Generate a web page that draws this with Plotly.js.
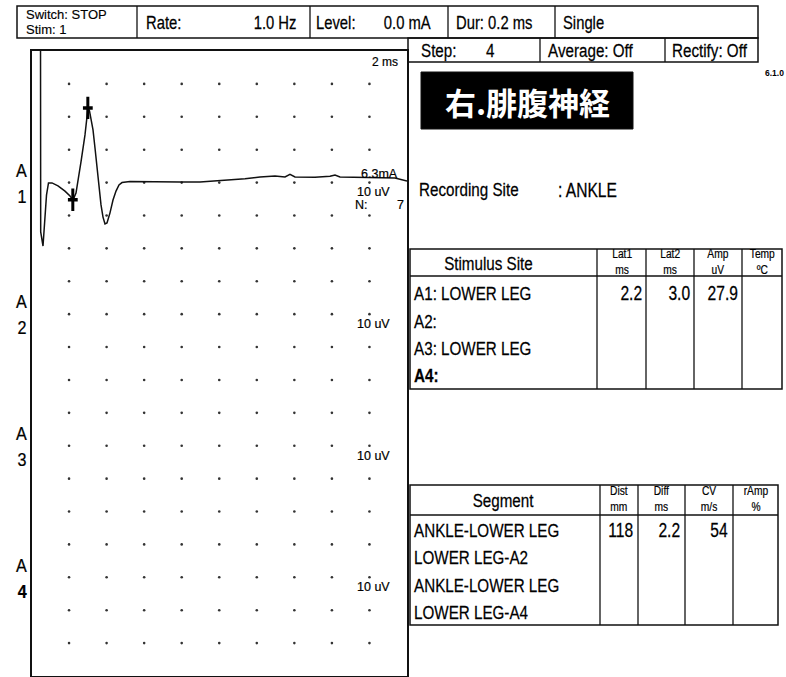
<!DOCTYPE html>
<html><head><meta charset="utf-8">
<script src="https://cdn.plot.ly/plotly-3.0.1.min.js"></script>
<style>html,body{margin:0;padding:0;background:#fff}#chart{width:786px;height:677px}</style>
</head><body><div id="chart"></div>
<script>
// ---- data ----
const timeMs = [0.479,0.490,0.613,0.692,0.799,0.905,1.092,1.411,1.784,2.051,2.210,2.370,2.477,2.636,2.849,2.929,3.009,3.089,3.169,3.276,3.382,3.542,3.702,3.808,3.915,4.021,4.181,4.341,4.501,4.660,4.820,5.246,6.312,7.909,8.975,9.774,10.573,11.372,12.170,12.969,13.502,13.768,14.035,15.100,15.899,16.165,16.431,17.497,18.562,19.361,20.0];
const ampUv  = [49.4,-15.0,-19.3,-13.8,-3.8,-0.1,-0.1,-1.0,-2.6,-4.1,-5.3,-3.2,0.2,6.3,14.5,19.6,22.7,21.8,19.6,16.0,10.5,1.4,-6.8,-10.5,-12.6,-12.3,-9.2,-5.3,-2.6,-0.7,0.0,0.3,0.2,0.2,0.2,0.5,0.8,1.2,1.7,2.0,1.7,2.5,1.7,1.6,1.9,2.3,1.7,1.6,1.7,1.4,0.5];
const cursorLat = [2.2, 3.0];
const cursorAmp = [-5.2, 22.7];
const channelNames = ['1','2','3','4'];
const channelBaseUv = [0, -40, -80, -120];
const channelSens = ['10 uV','10 uV','10 uV','10 uV'];
const stimCurrent = '6.3mA';
const sweepCount = '7';
const timebase = '2 ms';
const headerRow1 = ['Switch: STOP','Stim: 1','Rate:','1.0 Hz','Level:','0.0 mA','Dur: 0.2 ms','Single'];
const headerRow2 = ['Step:','4','Average: Off','Rectify: Off'];
const nerveTitle = '右.腓腹神経';
const recordingSite = 'ANKLE';
const stimHeaders = ['Stimulus Site','Lat1<br>ms','Lat2<br>ms','Amp<br>uV','Temp<br>ºC'];
const stimSites = ['A1: LOWER LEG','A2:','A3: LOWER LEG','<b>A4:</b>'];
const lat1 = ['2.2','','',''];
const lat2 = ['3.0','','',''];
const ampCol = ['27.9','','',''];
const tempCol = ['','','',''];
const segHeaders = ['Segment','Dist<br>mm','Diff<br>ms','CV<br>m/s','rAmp<br>%'];
const segments = ['ANKLE-LOWER LEG','LOWER LEG-A2','ANKLE-LOWER LEG','LOWER LEG-A4'];
const distCol = ['118','','',''];
const diffCol = ['2.2','','',''];
const cvCol = ['54','','',''];
const rampCol = ['','','',''];

// ---- layout helpers (pixel -> paper) ----
const W = 786, H = 677;
const px = x => x / W, py = y => 1 - y / H;
const NARROW = '"Liberation Sans Narrow","Arial Narrow","Liberation Sans",Arial,sans-serif';
const ARIAL = '"Liberation Sans",Arial,sans-serif';
const CJK = '"Noto Sans CJK JP","Noto Sans CJK SC",sans-serif';
const shapes = [], ann = [], narrow = [], heavy = [];
function rect(x0,y0,x1,y1,w,fill){shapes.push({type:'rect',xref:'paper',yref:'paper',x0:px(x0),x1:px(x1),y0:py(y1),y1:py(y0),line:{color:'#111',width:w||1.5},fillcolor:fill||'rgba(0,0,0,0)',layer:'above'});}
function vl(x,y0,y1,w){shapes.push({type:'line',xref:'paper',yref:'paper',x0:px(x),x1:px(x),y0:py(y0),y1:py(y1),line:{color:'#111',width:w||1.3}});}
function hl(y,x0,x1,w){shapes.push({type:'line',xref:'paper',yref:'paper',x0:px(x0),x1:px(x1),y0:py(y),y1:py(y),line:{color:'#111',width:w||1.3}});}
function addAnn(a,isNarrow,hv,sc){ann.push(a);narrow.push(isNarrow?(sc||0.8):0);heavy.push(hv===undefined?0.25:hv);}
function txt(x,y,t,size,anchor,font,color,weight,isNarrow,hv,sc){
  addAnn({xref:'paper',yref:'paper',x:px(x),y:py(y),text:t,showarrow:false,xanchor:anchor||'left',yanchor:'middle',borderpad:0,
    font:{family:font||NARROW,size:size,color:color||'#000',weight:weight||400}}, isNarrow===undefined?!font:isNarrow, hv, sc);
}

// header
rect(17,6,758,38);
[137,310,448,555].forEach(x=>vl(x,6,38));
txt(25,14,headerRow1[0],13,'left',ARIAL,'#000',400,false,0.15);
txt(25,29,headerRow1[1],13,'left',ARIAL,'#000',400,false,0.15);
txt(145,22,headerRow1[2],18.5);
txt(297,22,headerRow1[3],18.5,'right');
txt(315,22,headerRow1[4],18.5);
txt(432,22,headerRow1[5],18.5,'right');
txt(455,22,headerRow1[6],18.5);
txt(562,22,headerRow1[7],18.5);
rect(408,38,758,62);
[540,665].forEach(x=>vl(x,38,62));
txt(420,50,headerRow2[0],19);
txt(490,50,headerRow2[1],19,'center');
txt(547,50,headerRow2[2],19);
txt(671,50,headerRow2[3],19);
txt(785,73,'6.1.0',8.5,'right',ARIAL,'#000',700,false,0);

// title box
rect(421,72,633,129,1,'#000');
txt(527,101,nerveTitle,31,'center',CJK,'#fff',700,false,0);
txt(418,190,'Recording Site',19);
txt(557,190,': '+recordingSite,19.5);

// stimulus table
const t1x=[410,597,646,694,742,782], t1y=[249,276,389];
rect(t1x[0],t1y[0],t1x[5],t1y[2]);
hl(t1y[1],t1x[0],t1x[5]);
t1x.slice(1,5).forEach(x=>vl(x,t1y[0],t1y[2]));
txt(488,263,stimHeaders[0],19,'center');
for(let i=1;i<5;i++) txt((t1x[i]+t1x[i+1])/2,262,stimHeaders[i],12.5,'center',NARROW,'#000',400,true,0.2,0.82);
const r1=[293,321,348,375];
const c1=[lat1,lat2,ampCol,tempCol];
stimSites.forEach((s,i)=>{txt(413,r1[i],s,19);c1.forEach((col,j)=>{if(col[i])txt(t1x[j+2]-3,r1[i],col[i],19.5,'right');});});

// segment table
const t2x=[410,600,638,685,733,778], t2y=[485,515,625];
rect(t2x[0],t2y[0],t2x[5],t2y[2]);
hl(t2y[1],t2x[0],t2x[5]);
t2x.slice(1,5).forEach(x=>vl(x,t2y[0],t2y[2]));
txt(503,500,segHeaders[0],19,'center');
for(let i=1;i<5;i++) txt((t2x[i]+t2x[i+1])/2,499,segHeaders[i],12.5,'center',NARROW,'#000',400,true,0.2,0.82);
const r2=[530,557,585,612];
const c2=[distCol,diffCol,cvCol,rampCol];
segments.forEach((s,i)=>{txt(413,r2[i],s,19);c2.forEach((col,j)=>{if(col[i])txt(t2x[j+2]-4,r2[i],col[i],19.5,'right');});});

// ---- plot area annotations in data coords ----
function dtxt(x,y,t,size,anchor){addAnn({xref:'x',yref:'y',x:x,y:y,text:t,showarrow:false,xanchor:anchor||'left',yanchor:'middle',borderpad:0,font:{family:ARIAL,size:size,color:'#000'}},false,0.2);}
channelBaseUv.forEach((b,i)=>{
  addAnn({xref:'paper',yref:'y',x:px(29),y:b+3.7,text:'A',showarrow:false,xanchor:'right',yanchor:'middle',font:{family:NARROW,size:19,color:'#000'}},true,0.25,0.85);
  addAnn({xref:'paper',yref:'y',x:px(28.5),y:b-4.2,text:channelNames[i],showarrow:false,xanchor:'right',yanchor:'middle',font:{family:NARROW,size:19,color:'#000',weight:i===3?700:400}},true,0.25,0.85);
  dtxt(18.2,b-3.0,channelSens[i],12.5,'center');
});
dtxt(19.6,2.7,stimCurrent,12.5,'right');
dtxt(17.2,-6.9,'N:',12.5,'left');
dtxt(19.9,-6.9,sweepCount,12.5,'right');
dtxt(19.6,36.7,timebase,12,'right');

// grid dots
const gx=[],gy=[];
for(let k=1;k<=9;k++)for(let j=1;j<=18;j++){gx.push(2*k);gy.push(40-10*j);}

const traces=[
 {x:gx,y:gy,mode:'markers',marker:{size:2.6,color:'#333'},hoverinfo:'skip'},
 {x:timeMs,y:ampUv,mode:'lines',line:{color:'#111',width:1.5},hoverinfo:'skip'},
 {x:cursorLat,y:cursorAmp,mode:'markers',marker:{symbol:'line-ns',size:16,line:{color:'#000',width:3}},hoverinfo:'skip'},
 {x:cursorLat,y:cursorAmp,mode:'markers',marker:{symbol:'line-ew',size:7,line:{color:'#000',width:3.5}},hoverinfo:'skip'}
];
const layout={
 width:W,height:H,margin:{l:0,r:0,t:0,b:0},paper_bgcolor:'#fff',plot_bgcolor:'#fff',showlegend:false,
 xaxis:{domain:[px(31.5),px(407)],range:[0,20],showgrid:false,zeroline:false,showticklabels:false,ticks:'',showline:true,mirror:true,linecolor:'#111',linewidth:1.7,fixedrange:true},
 yaxis:{domain:[py(676),py(51)],range:[-150,40],showgrid:false,zeroline:false,showticklabels:false,ticks:'',showline:true,mirror:true,linecolor:'#111',linewidth:1.7,fixedrange:true},
 shapes:shapes,annotations:ann
};
Plotly.newPlot('chart',traces,layout,{staticPlot:true,displayModeBar:false}).then(()=>{
  // condense the narrow-face texts horizontally (no condensed face installed) and thicken slightly like the scan
  document.querySelectorAll('g.annotation').forEach(g=>{
    const i=+g.getAttribute('data-index');
    const t=g.querySelector('text.annotation-text'); if(!t) return;
    if(heavy[i]){t.style.stroke='#000';t.style.strokeWidth=heavy[i]+'px';}
    const s=narrow[i]; if(!s) return;
    const bb=t.getBBox(); const a=ann[i].xanchor;
    const p=a==='left'?bb.x:(a==='right'?bb.x+bb.width:bb.x+bb.width/2);
    t.setAttribute('transform','translate('+p+',0) scale('+s+',1) translate('+(-p)+',0)');
  });
});
</script></body></html>
